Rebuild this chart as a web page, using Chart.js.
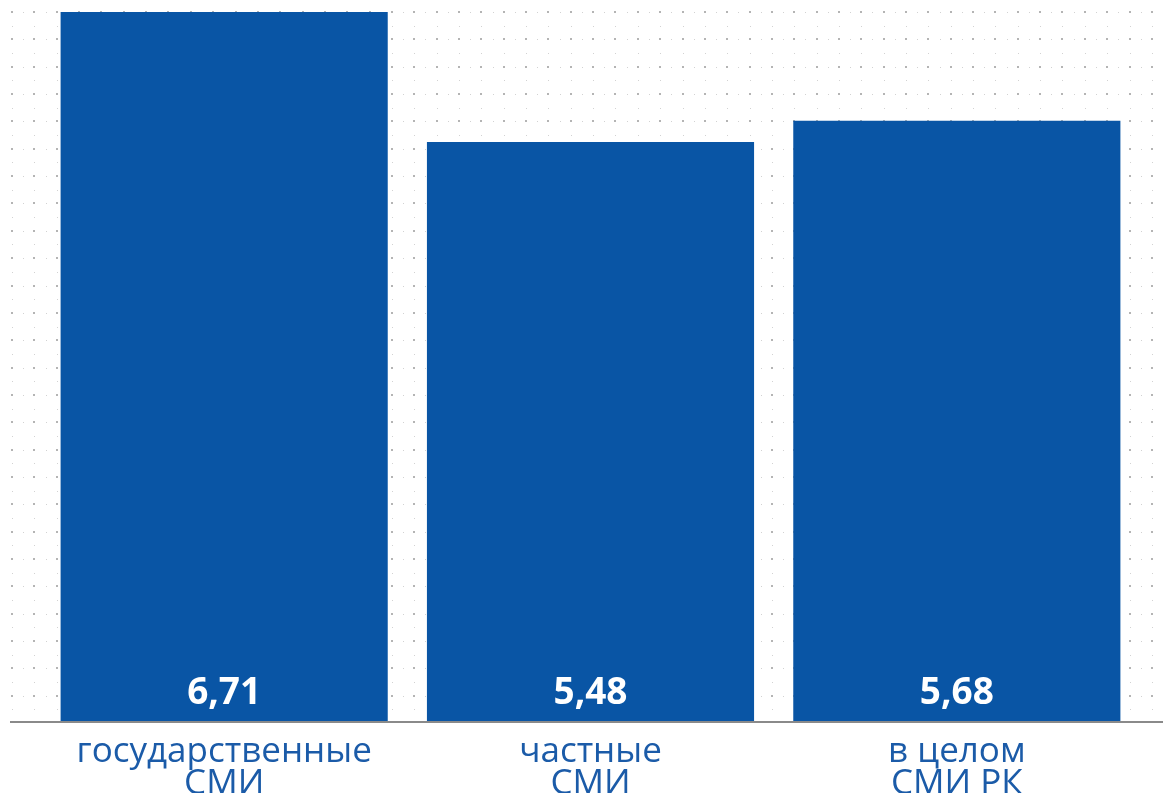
<!DOCTYPE html>
<html>
<head>
<meta charset="utf-8">
<script src="https://cdn.jsdelivr.net/npm/chart.js@4.4.0/dist/chart.umd.min.js"></script>
<style>
  html, body { margin: 0; padding: 0; background: #fff; }
  #wrap { width: 1163px; height: 793px; }
</style>
</head>
<body>
<div id="wrap"><canvas id="c-bar"></canvas></div>
<script>
// data
var categories = [
  ["государственные", "СМИ"],
  ["частные", "СМИ"],
  ["в целом", "СМИ РК"],
];
var values = [6.71, 5.48, 5.68];

var barColor = "#0955a5";
var labelColor = "#1b5ba8";

// dotted background grid
var dotGrid = {
  id: "dotGrid",
  beforeDraw: function (chart) {
    var ctx = chart.ctx;
    var bottom = chart.chartArea.bottom - 4;
    var sx = 22.35 / 2, sy = 27.35 / 2;
    ctx.save();
    for (var j = 0; 12 + j * sy < bottom; j++) {
      var y = Math.round(12 + j * sy);
      for (var i = 0; 12 + i * sx < chart.width; i++) {
        var x = Math.round(12 + i * sx);
        var majorRow = j % 2 === 0, majorCol = i % 2 === 0;
        if (majorRow && majorCol) {
          ctx.fillStyle = "#b4b4b4";
          ctx.fillRect(x - 1, y - 1, 2, 2);
        } else if (majorRow || majorCol) {
          ctx.fillStyle = "#d2d2d2";
          ctx.fillRect(x, y, 1, 1);
        }
      }
    }
    ctx.restore();
  },
  afterDatasetsDraw: function (chart) {
    var ctx = chart.ctx;
    var base = chart.chartArea.bottom;
    // axis line
    ctx.save();
    ctx.strokeStyle = "#8a8a8a";
    ctx.lineWidth = 2;
    ctx.beginPath();
    ctx.moveTo(10, base + 1);
    ctx.lineTo(chart.width, base + 1);
    ctx.stroke();
    // value labels
    ctx.fillStyle = "#ffffff";
    ctx.font = "bold 37px 'Open Sans'";
    ctx.textAlign = "center";
    ctx.textBaseline = "alphabetic";
    chart.getDatasetMeta(0).data.forEach(function (bar, k) {
      ctx.fillText(values[k].toFixed(2).replace(".", ","), bar.x, base - 17);
    });
    ctx.restore();
  },
};

var barctx = document.getElementById("c-bar").getContext("2d");
var myChart = new Chart(barctx, {
  type: "bar",
  data: {
    labels: categories,
    datasets: [
      {
        data: values,
        backgroundColor: function (c) {
          var bar = c.element;
          if (!bar || bar.width === undefined) return barColor;
          var g = c.chart.ctx.createLinearGradient(bar.x - bar.width / 2, 0, bar.x + bar.width / 2, 0);
          g.addColorStop(0, "#0852a1");
          g.addColorStop(0.5, "#0a59aa");
          g.addColorStop(1, "#0852a1");
          return g;
        },
        borderWidth: 0,
        barPercentage: 0.893,
        categoryPercentage: 1,
      },
    ],
  },
  options: {
    responsive: true,
    maintainAspectRatio: false,
    animation: false,
    layout: { padding: { left: 41, right: 23, top: 12, bottom: 0 } },
    plugins: {
      legend: { display: false },
      tooltip: { enabled: false },
    },
    scales: {
      y: {
        display: false,
        min: 0,
        max: 6.71,
      },
      x: {
        grid: { display: false, drawTicks: false },
        border: { display: false },
        ticks: {
          color: labelColor,
          padding: 15,
          font: { family: "'Open Sans'", size: 35, weight: 500, lineHeight: 0.92 },
        },
        afterFit: function (scale) {
          scale.height = 72;
        },
      },
    },
  },
  plugins: [dotGrid],
});
</script>
</body>
</html>
